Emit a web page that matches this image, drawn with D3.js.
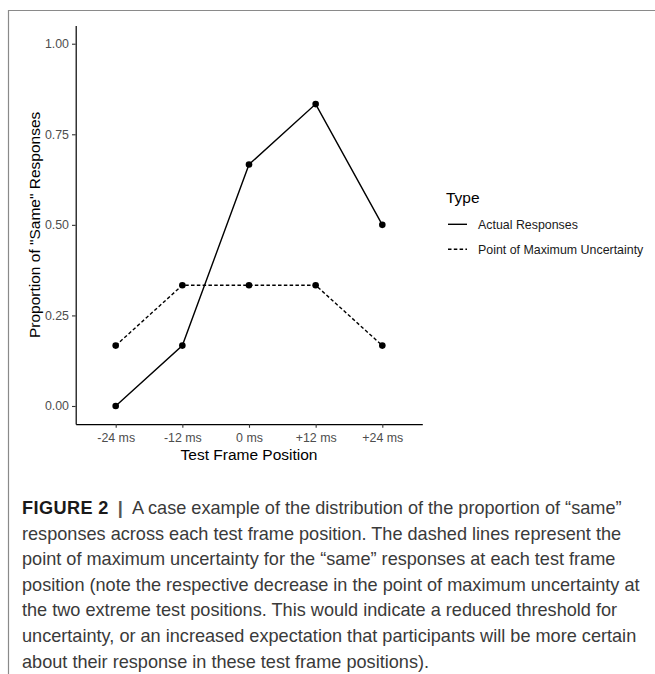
<!DOCTYPE html>
<html><head><meta charset="utf-8">
<script src="https://cdn.jsdelivr.net/npm/d3@7"></script>
<style>body{margin:0;background:#fff}svg{display:block}</style>
</head><body>
<svg id="c" width="655" height="674"></svg>
<script>
const categories = ["-24 ms", "-12 ms", "0 ms", "+12 ms", "+24 ms"];
const actualResponses = [0, 0.1667, 0.6667, 0.8333, 0.5];
const maxUncertainty = [0.1667, 0.3333, 0.3333, 0.3333, 0.1667];
const yTicks = [0, 0.25, 0.5, 0.75, 1.0];
const seriesNames = ["Actual Responses", "Point of Maximum Uncertainty"];
const legendTitle = "Type";
const xTitle = "Test Frame Position";
const yTitle = "Proportion of \"Same\" Responses";
const captionLines = [
  "A case example of the distribution of the proportion of \u201csame\u201d",
  "responses across each test frame position. The dashed lines represent the",
  "point of maximum uncertainty for the \u201csame\u201d responses at each test frame",
  "position (note the respective decrease in the point of maximum uncertainty at",
  "the two extreme test positions. This would indicate a reduced threshold for",
  "uncertainty, or an increased expectation that participants will be more certain",
  "about their response in these test frame positions)."
];

const FONT = "'Liberation Sans', Arial, Helvetica, sans-serif";
const svg = d3.select("#c").style("font-family", FONT);

// frame
svg.append("path").attr("d", "M8.5,674 V10.5 H655")
  .attr("fill", "none").attr("stroke", "#8a8a8a").attr("stroke-width", 1.2);

const x = d3.scalePoint().domain(categories).range([75.7, 422.3]).padding(0.6);
const y = d3.scaleLinear().domain([-0.05, 1.05]).range([424.1, 25.6]);

const xAxis = svg.append("g").attr("transform", "translate(0,424.1)")
  .call(d3.axisBottom(x).tickSizeInner(3.7).tickSizeOuter(0).tickPadding(3));
const yAxis = svg.append("g").attr("transform", "translate(75.7,0)")
  .call(d3.axisLeft(y).tickValues(yTicks).tickFormat(d3.format(".2f"))
    .tickSizeInner(3.7).tickSizeOuter(0).tickPadding(3));
[xAxis, yAxis].forEach(a => {
  a.attr("font-size", null).attr("font-family", null);
  a.select(".domain").attr("stroke", "#000").attr("stroke-width", 1.2);
  a.selectAll(".tick line").attr("stroke", "#333").attr("stroke-width", 1.1);
  a.selectAll(".tick text").attr("fill", "#4d4d4d").style("font-size", "12.4px").style("font-family", FONT);
});
xAxis.selectAll(".tick text").attr("dy", "0.9em");

// axis titles
svg.append("text").attr("x", (75.7 + 422.3) / 2).attr("y", 460)
  .attr("text-anchor", "middle").style("font-size", "15.5px").attr("fill", "#000").text(xTitle);
svg.append("text").attr("transform", "translate(40," + ((25.6 + 424.1) / 2) + ") rotate(-90)")
  .attr("text-anchor", "middle").style("font-size", "15.5px").attr("fill", "#000").text(yTitle);

// series
const series = [
  {name: seriesNames[0], values: actualResponses, dash: null},
  {name: seriesNames[1], values: maxUncertainty, dash: "3.5,2.3"}
];
const line = d3.line().x((d, i) => x(categories[i])).y(d => y(d));
series.forEach(s => {
  svg.append("path").datum(s.values).attr("d", line)
    .attr("fill", "none").attr("stroke", "#000").attr("stroke-width", 1.4)
    .attr("stroke-dasharray", s.dash);
  svg.append("g").selectAll("circle").data(s.values).join("circle")
    .attr("cx", (d, i) => x(categories[i])).attr("cy", d => y(d)).attr("r", 3.3)
    .attr("fill", "#000");
});

// legend
const lg = svg.append("g").attr("transform", "translate(446,0)");
lg.append("text").attr("x", 0).attr("y", 203).style("font-size", "15.5px").attr("fill", "#000").text(legendTitle);
series.forEach((s, i) => {
  const yy = 224.3 + i * 25;
  lg.append("line").attr("x1", 2).attr("x2", 21).attr("y1", yy).attr("y2", yy)
    .attr("stroke", "#000").attr("stroke-width", 1.4).attr("stroke-dasharray", s.dash);
  lg.append("text").attr("x", 32).attr("y", yy + 4.3).style("font-size", "12.4px").attr("fill", "#1a1a1a").text(s.name);
});

// caption
const cap = svg.append("g");
const baseSize = 16.5;
const probe = cap.append("text").style("font-size", baseSize + "px").text(captionLines[3]);
const w = probe.node().getComputedTextLength();
probe.remove();
const fs = baseSize * 618 / w;
captionLines.forEach((t, i) => {
  const tx = cap.append("text").attr("x", 22).attr("y", 514 + i * 25.6)
    .style("font-size", fs + "px").attr("fill", "#3a3a3a");
  if (i === 0) {
    tx.append("tspan").attr("font-weight", "bold").attr("fill", "#1a1a1a").attr("letter-spacing", "0.4").text("FIGURE 2");
    tx.append("tspan").attr("dx", 9).attr("font-weight", "bold").attr("fill", "#555").text("|");
    tx.append("tspan").attr("dx", 9).text(t);
  } else {
    tx.text(t);
  }
});
</script>
</body></html>
